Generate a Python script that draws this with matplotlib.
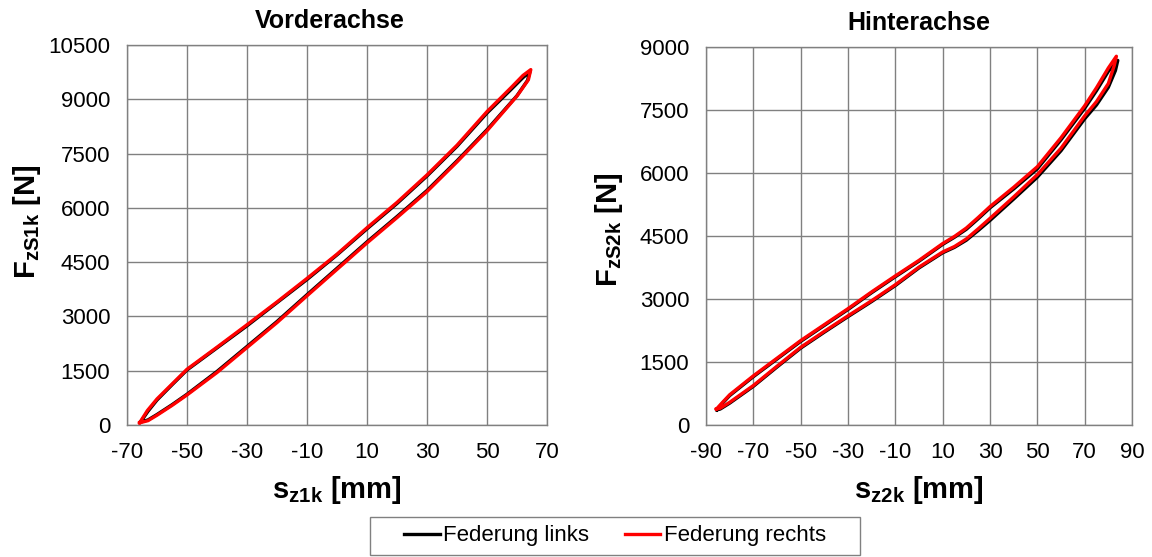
import matplotlib.pyplot as plt
from matplotlib.patches import Rectangle

plt.rcParams['font.family'] = ['Liberation Sans', 'DejaVu Sans']
plt.rcParams['axes.unicode_minus'] = False

# Vorderachse (front axle), loop = upper branch then lower branch
va_links_x = [-65.5, -63, -60, -55, -50, -40, -30, -20, -10, 0, 10, 20, 30, 40, 50, 58, 62, 64.3,
              63.5, 60, 50, 40, 30, 20, 10, 0, -10, -20, -30, -40, -50, -55, -60, -63, -65.5]
va_links_f = [80, 380, 690, 1110, 1520, 2130, 2740, 3380, 4020, 4700, 5420, 6120, 6880, 7700, 8620, 9270, 9600, 9760,
              9520, 9100, 8160, 7300, 6480, 5760, 5060, 4330, 3600, 2860, 2170, 1480, 850, 560, 290, 140, 80]
va_rechts_x = [-65.8, -63.2, -60, -55, -50, -40, -30, -20, -10, 0, 10, 20, 30, 40, 50, 58, 62, 64.6,
               63.8, 60, 50, 40, 30, 20, 10, 0, -10, -20, -30, -40, -50, -55, -60, -63, -65.8]
va_rechts_f = [60, 400, 720, 1130, 1540, 2150, 2770, 3400, 4050, 4720, 5450, 6150, 6910, 7730, 8660, 9320, 9660, 9820,
               9540, 9090, 8130, 7270, 6450, 5730, 5030, 4300, 3570, 2830, 2140, 1450, 830, 540, 270, 120, 60]

# Hinterachse (rear axle)
ha_links_x = [-85.4, -83, -80, -70, -60, -50, -40, -30, -20, -10, 0, 10, 15, 20, 25, 30, 40, 50, 60, 70, 75, 80, 84.0,
              83, 80, 75, 70, 60, 50, 40, 30, 25, 20, 15, 10, 0, -10, -20, -30, -40, -50, -60, -70, -80, -84, -85.4]
ha_links_f = [360, 520, 700, 1150, 1570, 1990, 2370, 2750, 3150, 3530, 3900, 4300, 4470, 4660, 4910, 5170, 5620, 6100, 6790, 7540, 7960, 8420, 8680,
              8440, 8040, 7620, 7290, 6530, 5900, 5380, 4870, 4630, 4400, 4230, 4100, 3740, 3320, 2940, 2580, 2210, 1830, 1380, 920, 520, 380, 360]
ha_rechts_x = [-85.6, -83, -80, -70, -60, -50, -40, -30, -20, -10, 0, 10, 15, 20, 25, 30, 40, 50, 60, 70, 75, 80, 83.4,
               82.5, 80, 75, 70, 60, 50, 40, 30, 25, 20, 15, 10, 0, -10, -20, -30, -40, -50, -60, -70, -80, -84, -85.6]
ha_rechts_f = [380, 540, 720, 1170, 1590, 2010, 2390, 2770, 3170, 3550, 3920, 4320, 4490, 4690, 4940, 5200, 5660, 6150, 6840, 7600, 8030, 8500, 8780,
               8560, 8130, 7700, 7360, 6590, 5960, 5430, 4920, 4670, 4430, 4250, 4120, 3760, 3340, 2960, 2600, 2230, 1850, 1400, 940, 540, 400, 380]

grid_col = '#808080'

fig = plt.figure(figsize=(11.52, 5.57), dpi=100)
ax1 = fig.add_axes([127/1152, 1-425/557, 420/1152, 380/557])
ax2 = fig.add_axes([706/1152, 1-425/557, 426/1152, 378/557])

panels = [
    (ax1, va_links_x, va_links_f, va_rechts_x, va_rechts_f, 'Vorderachse', (-70, 70), 10500,
     's$_\\mathregular{z1k}$ [mm]', 'F$_\\mathregular{zS1k}$ [N]', 0.483, (-0.2, 0.535)),
    (ax2, ha_links_x, ha_links_f, ha_rechts_x, ha_rechts_f, 'Hinterachse', (-90, 90), 9000,
     's$_\\mathregular{z2k}$ [mm]', 'F$_\\mathregular{zS2k}$ [N]', 0.5, (-0.19, 0.516)),
]

for ax, lx, lf, rx, rf, title, xlim, ymax, xlab, ylab, tx, ycoords in panels:
    ax.plot(lx, lf, color='black', lw=2.4, label='Federung links', solid_joinstyle='round')
    ax.plot(rx, rf, color='#ff0000', lw=2.4, label='Federung rechts', solid_joinstyle='round')
    ax.set_xlim(*xlim)
    ax.set_ylim(0, ymax)
    ax.set_xticks(range(xlim[0], xlim[1] + 1, 20))
    ax.set_yticks(range(0, ymax + 1, 1500))
    ax.grid(True, color=grid_col, lw=1)
    ax.set_axisbelow(True)
    for s in ax.spines.values():
        s.set_color(grid_col)
        s.set_linewidth(1)
    ax.tick_params(length=0, pad=12, labelsize=16)
    ax.set_title(title, fontsize=18, fontweight='bold', x=tx, pad=12)
    ax.set_xlabel(xlab, fontsize=21, fontweight='bold')
    ax.set_ylabel(ylab, fontsize=21, fontweight='bold')
    ax.xaxis.set_label_coords(0.5, -0.13)
    ax.yaxis.set_label_coords(*ycoords)

handles, labels = ax1.get_legend_handles_labels()
fig.legend(handles, labels, loc='center', bbox_to_anchor=(615/1152, 1-536/557), ncol=2,
           frameon=False, fontsize=16, handlelength=1.6, handletextpad=0.15, columnspacing=1.6)
fig.patches.append(Rectangle((370/1152, 1-555/557), 490/1152, 38/557, transform=fig.transFigure,
                             fill=False, edgecolor=grid_col, lw=1))

plt.savefig('out.png', dpi=100)
